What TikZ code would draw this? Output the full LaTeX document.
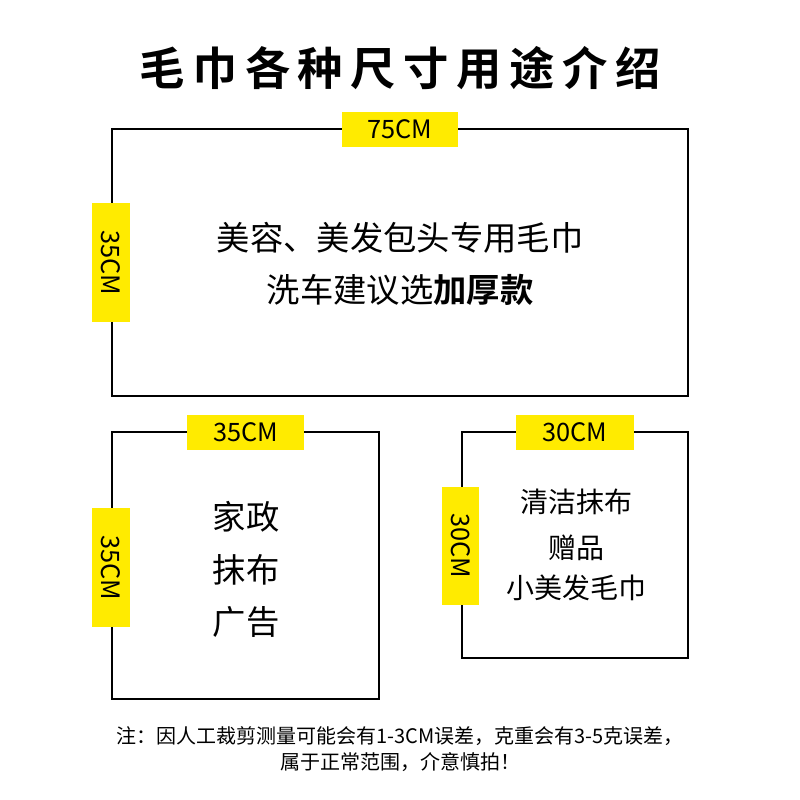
\documentclass[tikz,border=0pt]{standalone}
\usepackage{fontspec}
\setmainfont{Noto Sans CJK SC}
\newfontfamily\cjkb{Noto Sans CJK SC Bold}
\definecolor{ylw}{HTML}{FFEB00}
\begin{document}
\begin{tikzpicture}[x=0.75pt,y=-0.75pt,
  frame/.style={draw=black,line width=2.2pt},
  tag/.style={fill=ylw,inner sep=0pt,font=\fontsize{19}{19}\selectfont},
  body/.style={font=\fontsize{21}{27}\selectfont,align=center},
  bigbody/.style={font=\fontsize{25}{30}\selectfont,align=center},
  note/.style={font=\fontsize{15}{15}\selectfont}]
\path[use as bounding box,fill=white] (0,0) rectangle (800,800);
\node (title) at (400,68) {\cjkb\fontsize{34}{34}\selectfont 毛\,巾\,各\,种\,尺\,寸\,用\,途\,介\,绍};
% box 1
\draw[frame] (112,129) rectangle (688,396);
\node[tag,minimum width=87pt,minimum height=26pt] (t1) at (400,129.5) {75CM};
\node[tag,minimum width=28pt,minimum height=89pt] (l1) at (111,262.5) {};
\node[rotate=-90,font=\fontsize{19}{19}\selectfont] (l1t) at (l1) {35CM};
\node[bigbody] (b1a) at (400,238) {美容、美发包头专用毛巾};
\node[bigbody] (b1b) at (400,290) {洗车建议选{\cjkb 加厚款}};
% box 2
\draw[frame] (112,432) rectangle (379,699);
\node[tag,minimum width=88pt,minimum height=26pt] (t2) at (245.5,432.5) {35CM};
\node[tag,minimum width=28pt,minimum height=89pt] (l2) at (111,567.5) {};
\node[rotate=-90,font=\fontsize{19}{19}\selectfont] (l2t) at (l2) {35CM};
\node[bigbody] (b2a) at (246,517) {家政};
\node[bigbody] (b2b) at (246,570) {抹布};
\node[bigbody] (b2c) at (246,622) {广告};
% box 3
\draw[frame] (462,432) rectangle (688,658);
\node[tag,minimum width=88pt,minimum height=26pt] (t3) at (575,432.5) {30CM};
\node[tag,minimum width=28pt,minimum height=89pt] (l3) at (460.5,546) {};
\node[rotate=-90,font=\fontsize{19}{19}\selectfont] (l3t) at (l3) {30CM};
\node[body] (b3a) at (576,502) {清洁抹布};
\node[body] (b3b) at (576,548) {赠品};
\node[body] (b3c) at (576,588) {小美发毛巾};
% notes
\node[note] (n1) at (400,736) {注：因人工裁剪测量可能会有1-3CM误差，克重会有3-5克误差，};
\node[note] (n2) at (400,762) {属于正常范围，介意慎拍！};
\end{tikzpicture}
\end{document}
